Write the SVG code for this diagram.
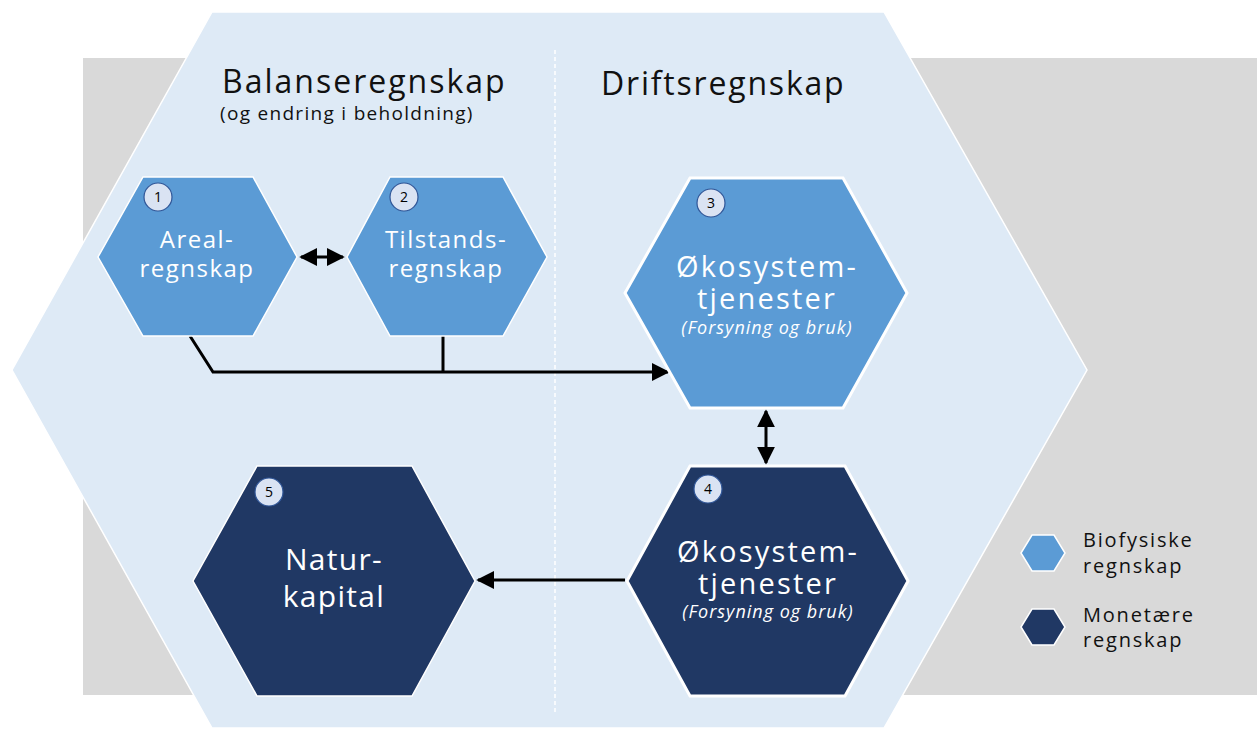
<svg xmlns="http://www.w3.org/2000/svg" width="1257" height="729" viewBox="0 0 1257 729">
<defs>
<style>
.bg{fill:#d9d9d9}
.big{fill:#deeaf6;stroke:#ffffff;stroke-width:1.5}
.lt{fill:#5b9bd5;stroke:#ffffff;stroke-width:1.5}
.dk{fill:#203864;stroke:#ffffff;stroke-width:1.5}
.thick{stroke-width:3}
.badge{fill:#dae3f3;stroke:#2f5597;stroke-width:1.2}
.bn{font-family:"Open Sans","DejaVu Sans",sans-serif;font-size:14px;fill:#000;text-anchor:middle}
.ht{font-family:"Open Sans","DejaVu Sans",sans-serif;fill:#ffffff;text-anchor:middle}
.it{font-family:"Open Sans","DejaVu Sans",sans-serif;font-style:italic;font-size:18px;fill:#ffffff;text-anchor:middle;letter-spacing:1px}
.title{font-family:"Open Sans","DejaVu Sans",sans-serif;fill:#111;}
.leg{font-family:"Open Sans","DejaVu Sans",sans-serif;font-size:20px;fill:#111;letter-spacing:1.8px}
.con{fill:none;stroke:#000;stroke-width:3}
</style>
<marker id="ah2" viewBox="0 0 10 10" refX="9" refY="5" markerWidth="6" markerHeight="6" orient="auto-start-reverse" markerUnits="strokeWidth">
<path d="M0,0 L10,5 L0,10 Z" fill="#000"/>
</marker>
</defs>
<rect class="bg" x="83" y="58" width="1174" height="637"/>
<polygon class="big" points="212,12 884,12 1087,370 884,728 212,728 12,370"/>
<line x1="555" y1="50" x2="555" y2="715" stroke="#ffffff" stroke-width="1.5" stroke-dasharray="4,3"/>
<g id="titles">
<text class="title" x="222" y="93" font-size="32" letter-spacing="2">Balanseregnskap</text>
<text class="title" x="220" y="120" font-size="19" letter-spacing="1.3">(og endring i beholdning)</text>
<text class="title" x="601" y="95" font-size="32" letter-spacing="1.8">Driftsregnskap</text>
</g>
<g id="connectors">
<path class="con" d="M190,336 L213,372 L668,372" marker-end="url(#ah2)"/>
<line class="con" x1="443" y1="336" x2="443" y2="372"/>
<line class="con" x1="301" y1="257" x2="343" y2="257" stroke-width="2.5" marker-start="url(#ah2)" marker-end="url(#ah2)"/>
<line class="con" x1="766" y1="411" x2="766" y2="463" marker-start="url(#ah2)" marker-end="url(#ah2)"/>
<line class="con" x1="625" y1="580" x2="478" y2="580" stroke-width="2.5" marker-end="url(#ah2)"/>
</g>
<g id="node1">
<polygon class="lt" points="143,177 253,177 297,257 253,336 143,336 98,257"/>
<circle class="badge" cx="158" cy="197" r="14"/>
<text class="bn" x="158" y="202">1</text>
<text class="ht" x="197" y="248" font-size="24" letter-spacing="1.5">Areal-</text>
<text class="ht" x="197" y="277" font-size="24" letter-spacing="1.5">regnskap</text>
</g>
<g id="node2">
<polygon class="lt" points="390,177 503,177 547,257 503,336 390,336 347,257"/>
<circle class="badge" cx="404" cy="197" r="14"/>
<text class="bn" x="404" y="202">2</text>
<text class="ht" x="446" y="248" font-size="24" letter-spacing="1.5">Tilstands-</text>
<text class="ht" x="446" y="277" font-size="24" letter-spacing="1.5">regnskap</text>
</g>
<g id="node3">
<polygon class="lt thick" points="690,178 843,178 907,293 843,408 690,408 625,293"/>
<circle class="badge" cx="711" cy="203" r="14"/>
<text class="bn" x="711" y="208">3</text>
<text class="ht" x="767" y="277" font-size="29" letter-spacing="2.2">Økosystem-</text>
<text class="ht" x="767" y="309" font-size="29" letter-spacing="2.2">tjenester</text>
<text class="it" x="767" y="334">(Forsyning og bruk)</text>
</g>
<g id="node4">
<polygon class="dk thick" points="690,466 845,466 908,581 845,696 690,696 627,581"/>
<circle class="badge" cx="708" cy="489" r="14"/>
<text class="bn" x="708" y="494">4</text>
<text class="ht" x="768" y="562" font-size="29" letter-spacing="2.2">Økosystem-</text>
<text class="ht" x="768" y="594" font-size="29" letter-spacing="2.2">tjenester</text>
<text class="it" x="768" y="618">(Forsyning og bruk)</text>
</g>
<g id="node5">
<polygon class="dk" points="257,466 412,466 475,581 412,696 257,696 193,581"/>
<circle class="badge" cx="269" cy="492" r="14"/>
<text class="bn" x="269" y="497">5</text>
<text class="ht" x="334" y="570" font-size="30" letter-spacing="1.3">Natur-</text>
<text class="ht" x="334" y="607" font-size="30" letter-spacing="1.3">kapital</text>
</g>
<g id="legend">
<polygon class="lt" points="1032,535 1054,535 1065,553 1054,571 1032,571 1021,553"/>
<polygon class="dk" points="1032,609 1054,609 1065,627 1054,645 1032,645 1021,627"/>
<text class="leg" x="1083" y="547">Biofysiske</text>
<text class="leg" x="1083" y="573">regnskap</text>
<text class="leg" x="1083" y="622">Monetære</text>
<text class="leg" x="1083" y="647">regnskap</text>
</g>
</svg>
